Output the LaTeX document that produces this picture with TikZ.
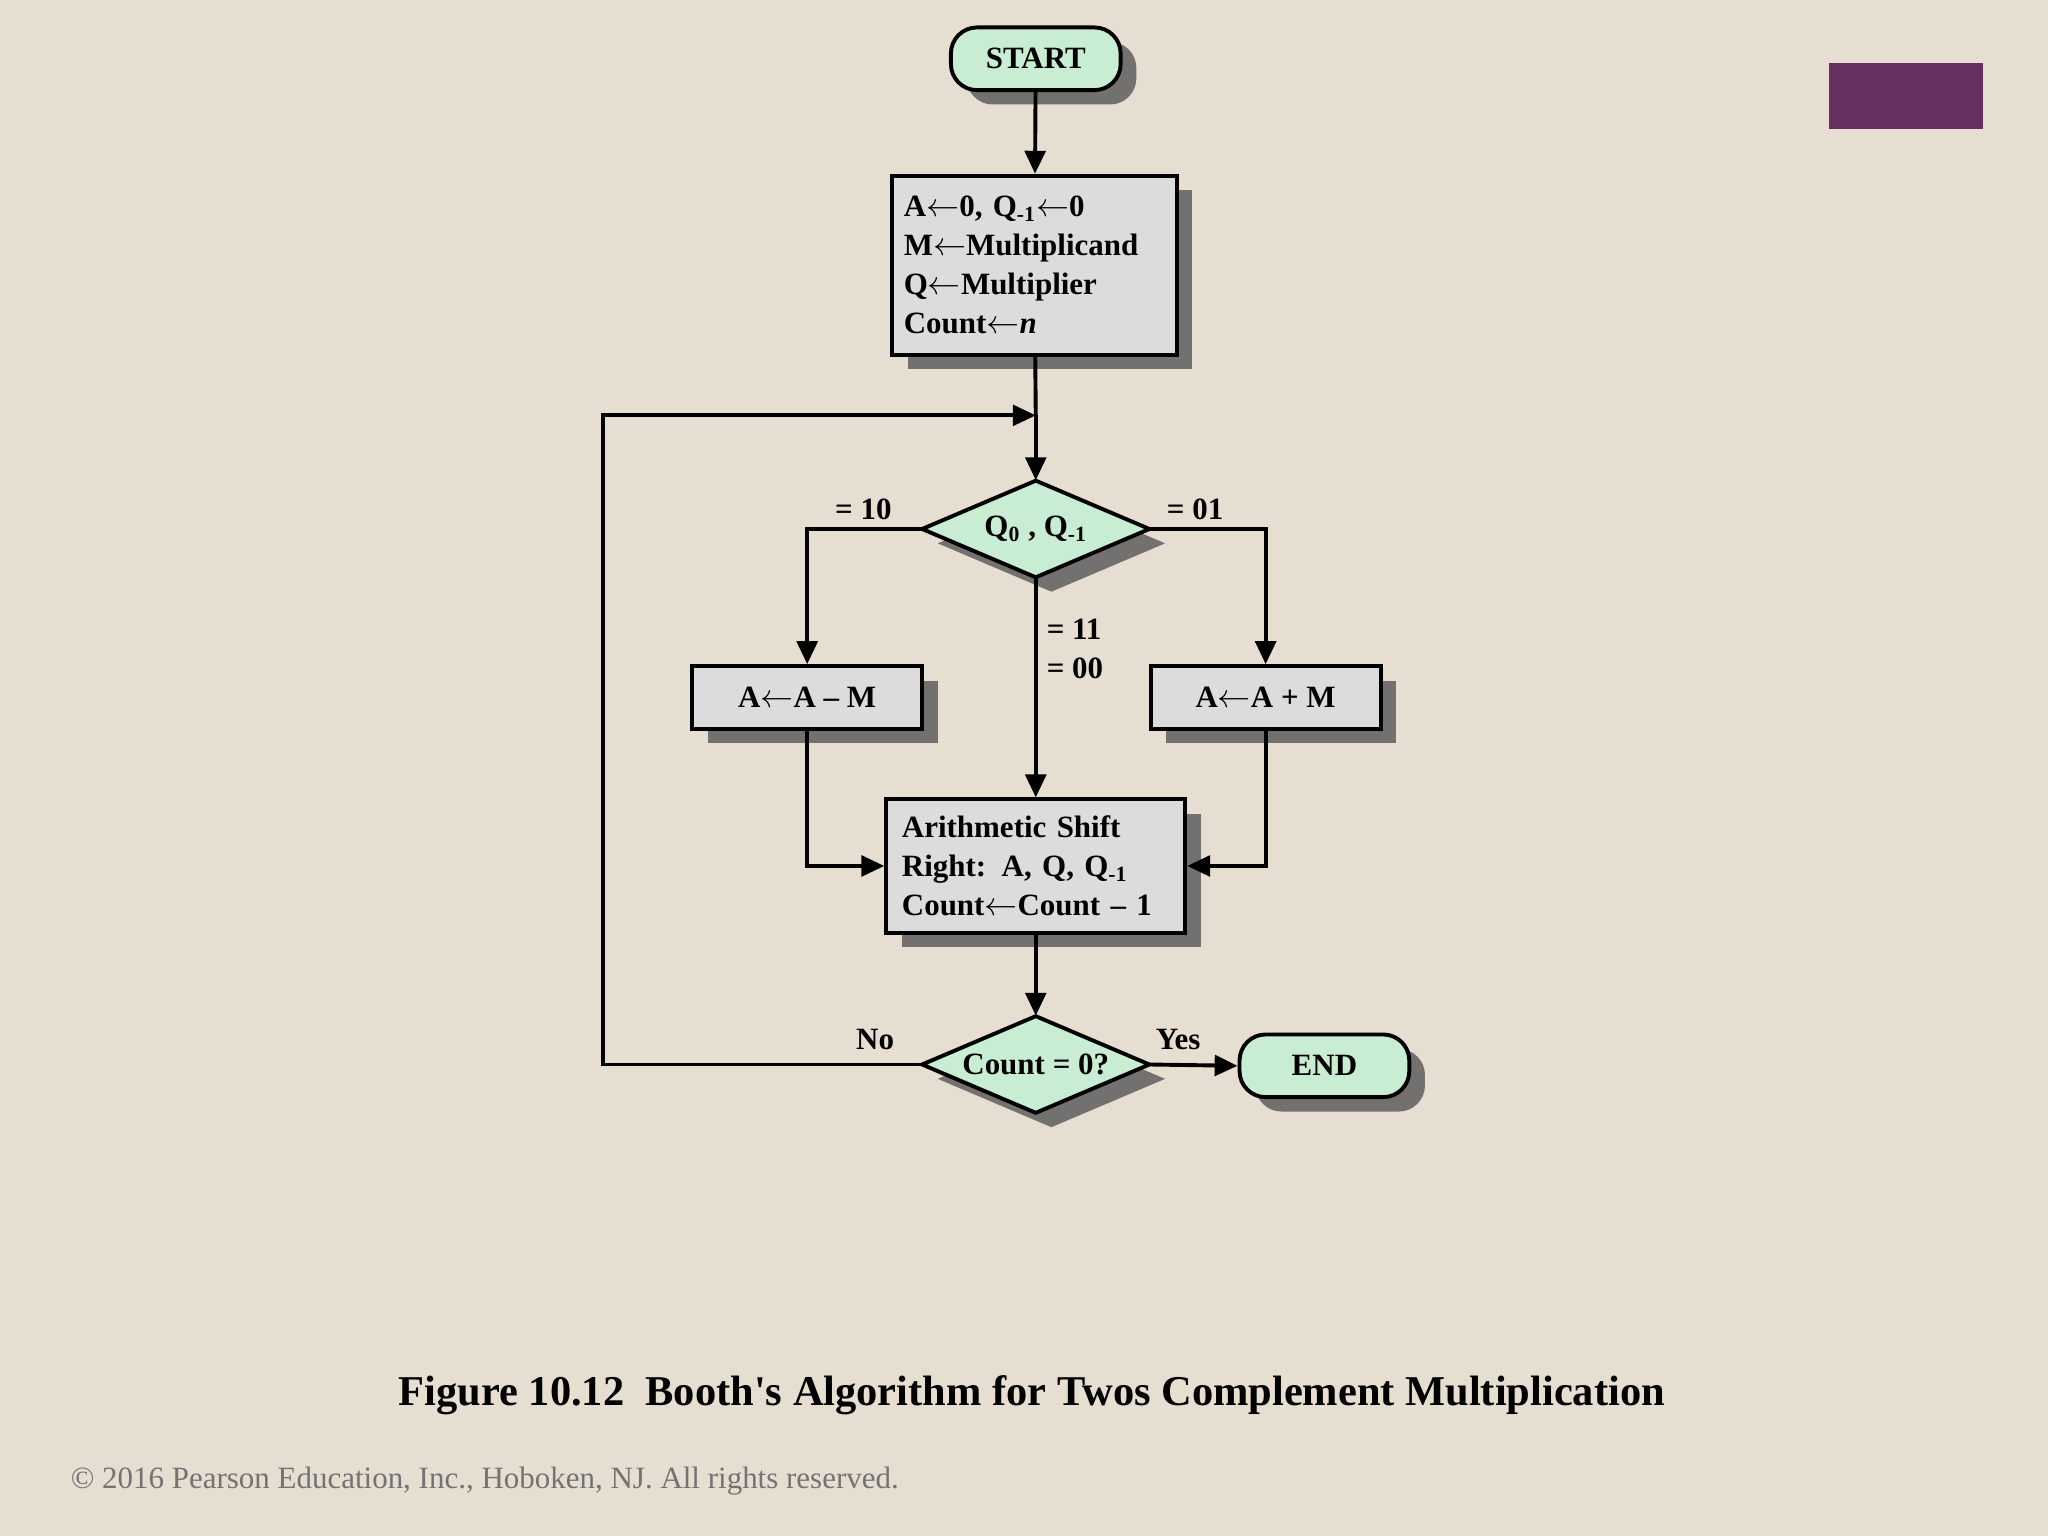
\documentclass[tikz,border=0pt]{standalone}
\usepackage{fontspec}
\setmainfont{Liberation Serif}
\usetikzlibrary{shapes.geometric,arrows.meta,shadows}
\definecolor{bg}{HTML}{E6DED0}
\definecolor{grn}{HTML}{C9EDD2}
\definecolor{gry}{HTML}{DCDCDC}
\definecolor{purp}{HTML}{663060}
\begin{document}
\begin{tikzpicture}[x=0.02cm,y=-0.02cm,
  sh/.style={drop shadow={shadow xshift=0.24cm,shadow yshift=-0.22cm,fill=black!60,opacity=0.9}},
  fnt/.style={font=\fontsize{13.5}{17}\selectfont\bfseries},
  base/.style={draw=black,line width=1.7pt,fnt,sh},
  term/.style={base,fill=grn,rounded corners=0.4cm,minimum width=2.6cm,minimum height=0.96cm},
  box/.style={base,fill=gry},
  dia/.style={fnt,inner sep=0pt,minimum width=3.48cm,minimum height=1.48cm},
  lab/.style={fnt},
  ar/.style={line width=1.7pt,-{Triangle[width=9pt,length=10pt]}},
  ln/.style={line width=1.7pt}]
\fill[bg] (0,0) rectangle (1568,1176);
\useasboundingbox (0,0) rectangle (1568,1176);
\fill[purp] (1400,48) rectangle (1518,99);
\foreach \cx/\cy in {793/405,793/815}{
  \fill[black!60,opacity=0.9] (\cx-87+12,\cy+11) -- (\cx+12,\cy-37+11) -- (\cx+87+12,\cy+11) -- (\cx+12,\cy+37+11) -- cycle;
  \draw[line width=1.7pt,fill=grn,line join=miter] (\cx-87,\cy) -- (\cx,\cy-37) -- (\cx+87,\cy) -- (\cx,\cy+37) -- cycle;
}
\node[term] (start) at (793,45) {START};
\node[box,minimum width=4.36cm,minimum height=2.74cm,align=left,text width=4.0cm] (init) at (792,203)
 {A$\leftarrow$0, Q\textsubscript{-1}$\leftarrow$0\\M$\leftarrow$Multiplicand\\Q$\leftarrow$Multiplier\\Count$\leftarrow$\textit{n}};
\coordinate (j) at (793,318);
\coordinate (lc) at (462,318);
\node[dia] (q) at (793,405) {Q\textsubscript{0} , Q\textsubscript{-1}};
\node[box,minimum width=3.52cm,minimum height=0.96cm] (amm) at (618,534) {A$\leftarrow$A -- M};
\node[box,minimum width=3.52cm,minimum height=0.96cm] (apm) at (969,534) {A$\leftarrow$A + M};
\node[box,minimum width=4.58cm,minimum height=2.04cm,align=left,text width=4.1cm] (sh) at (793,663)
 {Arithmetic Shift\\Right: A, Q, Q\textsubscript{-1}\\Count$\leftarrow$Count -- 1};
\node[dia] (c) at (793,815) {Count = 0?};
\node[term] (end) at (1014,816) {END};
\draw[ar] (start) -- (init);
\draw[ln] (init) -- (j);
\draw[ar] (j) -- (q.north);
\draw[ar] (c.west) -| (lc) -- (j);
\draw[ar] (q.west) -| (amm.north);
\draw[ar] (q.east) -| (apm.north);
\draw[ar] (q.south) -- (sh.north);
\draw[ar] (amm.south) |- (sh.west);
\draw[ar] (apm.south) |- (sh.east);
\draw[ar] (sh.south) -- (c.north);
\draw[ar] (c.east) -- (end.west);
\node[lab] at (661,390) {= 10};
\node[lab] at (915,390) {= 01};
\node[lab,align=left] at (823,497) {= 11\\= 00};
\node[lab] at (670,796) {No};
\node[lab] at (902,796) {Yes};
\node[font=\fontsize{18.5}{22}\selectfont\bfseries] at (790,1068) {Figure 10.12\ \ Booth\textquotesingle s Algorithm for Twos Complement Multiplication};
\node[font=\fontsize{13.5}{16}\selectfont,text=black!55,anchor=west] at (48,1134) {© 2016 Pearson Education, Inc., Hoboken, NJ. All rights reserved.};
\end{tikzpicture}
\end{document}
